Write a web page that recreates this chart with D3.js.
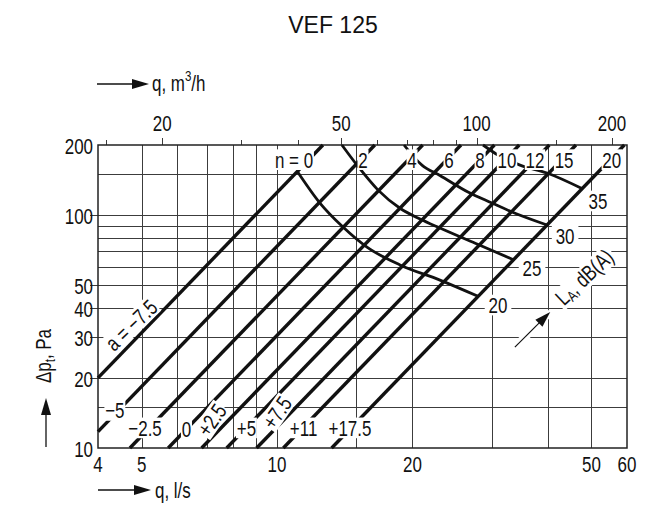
<!DOCTYPE html>
<html lang="en">
<head>
<meta charset="UTF-8">
<title>VEF 125</title>
<style>
    body {
        margin: 0;
        background: #ffffff;
    }
    svg {
        display: block;
    }
    .grid line {
        stroke: #3c3c3c;
        stroke-width: 1;
        shape-rendering: crispEdges;
    }
    .lbl {
        font-family: "Liberation Sans", Arial, sans-serif;
        font-size: 22px;
        fill: #111;
    }
    .title {
        font-family: "Liberation Sans", Arial, sans-serif;
        font-size: 23px;
        fill: #111;
    }
</style>
</head>
<body>
<svg id="chart" width="666" height="520"></svg>

<script src="https://d3js.org/d3.v7.min.js"></script>
<script>
// bottom axis, q in l/s
const qTicks = [4, 5, 10, 20, 50, 60];
const qGrid = [5, 6, 7, 8, 9, 10, 15, 20, 30, 40, 50];
// top axis, q in m3/h
const qhTicks = [20, 50, 100, 200];
const qhMinor = [15, 30, 40, 60, 70, 80, 90, 150];
// left axis, pressure in Pa
const pTicks = [10, 20, 30, 40, 50, 100, 200];
const pGrid = [15, 20, 30, 40, 50, 60, 70, 80, 90, 100, 150];

// damper lines: a setting (bottom), n setting (top), start / end point [q l/s, dp Pa]
const aLabels = ["a = \u22127.5", "\u22125", "\u22122.5", "0", "+2.5", "+5", "+7.5", "+11", "+17.5"];
const nLabels = ["n = 0", "2", "4", "6", "8", "10", "12", "15", "20"];
const lineStart = [[4, 20], [4, 11.75], [4.71, 10], [5.73, 10], [6.8, 10], [7.73, 10], [9.01, 10], [10.33, 10], [13.23, 10]];
const lineEnd = [[12.65, 200], [16.5, 200], [21.08, 200], [25.65, 200], [30.43, 200], [34.56, 200], [40.31, 200], [46.2, 200], [59.18, 200]];

// sound level curves, dB(A)
const soundLevels = ["20", "25", "30", "35"];
const sound20 = [[11.1, 154], [12.46, 112.7], [14.02, 88.9], [15.85, 72.9], [18.77, 61.1], [23.03, 52.6], [28.0, 44.8]];
const sound25 = [[13.94, 200], [15.06, 164], [16.78, 128], [18.77, 107], [20.8, 96.2], [23.03, 88.0], [27.84, 75.1], [33.47, 64.5]];
const sound30 = [[19.16, 200], [21.0, 164], [23.03, 148], [26.58, 125.7], [30.06, 112.7], [33.3, 103.1], [39.84, 90.7]];
const sound35 = [[28.71, 200], [31.0, 181], [34.7, 164], [39.84, 151.6], [47.64, 130]];

// where the annotations sit, in chart units [q, dp]
const aLabelAt = [[4.74, 33.7], [4.36, 14.5], [5.09, 12.2], [6.29, 12.1], [7.16, 13.2], [8.55, 12.2], [10.0, 14.2], [11.46, 12.2], [14.53, 12.2]];
const aLabelTilt = [-44, 0, 0, 0, -55, 0, -55, 0, 0];
const nLabelAt = [[10.91, 173], [15.53, 173], [19.96, 173], [24.12, 173], [28.28, 173], [32.46, 173], [37.46, 173], [43.48, 173], [55.5, 173]];
const soundLabelAt = [[31.0, 41.1], [36.9, 59.3], [43.7, 81.3], [51.7, 115]];

const svg = d3.select("#chart");
const pLeft = 98, pRight = 627, pTop = 145, pBottom = 448;
const squeeze = 0.77;  // the original lettering is a condensed face

const x = d3.scaleLog().domain([4, 60]).range([pLeft, pRight]);
const y = d3.scaleLog().domain([10, 200]).range([pBottom, pTop]);
const xh = d3.scaleLog().domain([4 * 3.6, 60 * 3.6]).range([pLeft, pRight]);

function putText(g, str, px, py, rot, anchor) {
    return g.append("g")
        .attr("transform", `translate(${px},${py}) rotate(${rot || 0}) scale(${squeeze},1)`)
        .append("text")
        .attr("class", "lbl")
        .attr("text-anchor", anchor || "middle")
        .attr("dominant-baseline", "central")
        .text(str);
}

// white patch behind a label so the lines break around it
function boxIt(t, padX, padY) {
    const b = t.node().getBBox();
    d3.select(t.node().parentNode).insert("rect", "text")
        .attr("x", b.x - padX).attr("y", b.y + 2 - padY)
        .attr("width", b.width + 2 * padX).attr("height", b.height - 4 + 2 * padY)
        .attr("fill", "#fff");
}

// grid
const grid = svg.append("g").attr("class", "grid");
grid.selectAll(".vx").data(qGrid).enter().append("line")
    .attr("x1", d => Math.round(x(d)) + 0.5).attr("x2", d => Math.round(x(d)) + 0.5)
    .attr("y1", pTop).attr("y2", pBottom);
grid.selectAll(".hy").data(pGrid).enter().append("line")
    .attr("x1", pLeft).attr("x2", pRight)
    .attr("y1", d => Math.round(y(d)) + 0.5).attr("y2", d => Math.round(y(d)) + 0.5);
// little ticks left of the frame
grid.selectAll(".ty").data(pTicks.filter(d => d > 10 && d < 200)).enter().append("line")
    .attr("x1", pLeft - 8).attr("x2", pLeft)
    .attr("y1", d => Math.round(y(d)) + 0.5).attr("y2", d => Math.round(y(d)) + 0.5);
// top axis ticks (m3/h)
grid.selectAll(".tq").data(qhTicks.concat(qhMinor)).enter().append("line")
    .attr("x1", d => Math.round(xh(d)) + 0.5).attr("x2", d => Math.round(xh(d)) + 0.5)
    .attr("y1", d => qhTicks.includes(d) ? pTop - 7 : pTop - 5).attr("y2", pTop);

// frame
svg.append("rect")
    .attr("x", pLeft).attr("y", pTop)
    .attr("width", pRight - pLeft).attr("height", pBottom - pTop)
    .attr("fill", "none").attr("stroke", "#222").attr("stroke-width", 1.5);

// damper lines
const lines = svg.append("g");
lineStart.forEach((s, i) => {
    lines.append("line")
        .attr("x1", x(s[0])).attr("y1", y(s[1]))
        .attr("x2", x(lineEnd[i][0])).attr("y2", y(lineEnd[i][1]))
        .attr("stroke", "#111").attr("stroke-width", 3.4);
});

// sound curves
const curve = d3.line().x(d => x(d[0])).y(d => y(d[1])).curve(d3.curveMonotoneX);
[sound20, sound25, sound30, sound35].forEach(pts => {
    svg.append("path").attr("d", curve(pts))
        .attr("fill", "none").attr("stroke", "#111").attr("stroke-width", 2.8);
});

// line labels
const labels = svg.append("g");
aLabels.forEach((t, i) => {
    boxIt(putText(labels, t, x(aLabelAt[i][0]), y(aLabelAt[i][1]), aLabelTilt[i], "middle"), 1, 0);
});
nLabels.forEach((t, i) => {
    boxIt(putText(labels, t, x(nLabelAt[i][0]), y(nLabelAt[i][1]), 0, "middle"), 1, 0);
});
soundLevels.forEach((t, i) => {
    boxIt(putText(labels, t, x(soundLabelAt[i][0]), y(soundLabelAt[i][1]), 0, "middle"), 5, 0);
});

// L_A label with its arrow
const arrA = [[33.8, 27.1], [40.5, 38.4]];
const ax1 = x(arrA[0][0]), ay1 = y(arrA[0][1]), ax2 = x(arrA[1][0]), ay2 = y(arrA[1][1]);
const ang = Math.atan2(ay2 - ay1, ax2 - ax1);
svg.append("line")
    .attr("x1", ax1).attr("y1", ay1).attr("x2", ax2).attr("y2", ay2)
    .attr("stroke", "#fff").attr("stroke-width", 8);
svg.append("line")
    .attr("x1", ax1).attr("y1", ay1)
    .attr("x2", ax2 - 12 * Math.cos(ang)).attr("y2", ay2 - 12 * Math.sin(ang))
    .attr("stroke", "#111").attr("stroke-width", 1.2);
svg.append("path")
    .attr("d", "M0,0 L-16,-5 L-16,5 Z")
    .attr("transform", `translate(${ax2},${ay2}) rotate(${ang * 180 / Math.PI})`)
    .attr("fill", "#111");
const la = putText(svg, "", x(48.2), y(54.2), -43, "middle");
la.append("tspan").text("L");
la.append("tspan").attr("font-size", 15).attr("dy", 5).text("A");
la.append("tspan").attr("dy", -5).text(", dB(A)");
boxIt(la, 3, 0);

// tick labels
qTicks.forEach(d => putText(svg, d, x(d), pBottom + 16, 0, "middle"));
pTicks.forEach(d => putText(svg, d, pLeft - 5, y(d) + 1, 0, "end"));
qhTicks.forEach(d => putText(svg, d, xh(d), pTop - 22, 0, "middle"));

// axis titles with arrows
function arrow(x1, y1, x2, y2) {
    const a = Math.atan2(y2 - y1, x2 - x1);
    svg.append("line")
        .attr("x1", x1).attr("y1", y1)
        .attr("x2", x2 - 14 * Math.cos(a)).attr("y2", y2 - 14 * Math.sin(a))
        .attr("stroke", "#111").attr("stroke-width", 1.3);
    svg.append("path")
        .attr("d", "M0,0 L-17,-5 L-17,5 Z")
        .attr("transform", `translate(${x2},${y2}) rotate(${a * 180 / Math.PI})`)
        .attr("fill", "#111");
}

arrow(97, 84, 149, 84);
const tq = putText(svg, "", 152, 83, 0, "start");
tq.append("tspan").text("q, m");
tq.append("tspan").attr("font-size", 15).attr("dy", -8).text("3");
tq.append("tspan").attr("dy", 8).text("/h");

arrow(98, 490, 151, 490);
putText(svg, "q, l/s", 155, 490, 0, "start");

arrow(46, 447, 46, 398);
const tp = putText(svg, "", 43, 356, -90, "middle");
tp.append("tspan").text("\u0394p");
tp.append("tspan").attr("font-size", 15).attr("dy", 6).text("t");
tp.append("tspan").attr("dy", -6).text(", Pa");

svg.append("text").attr("class", "title")
    .attr("x", 333).attr("y", 33).attr("text-anchor", "middle")
    .text("VEF 125");
</script>
</body>
</html>
